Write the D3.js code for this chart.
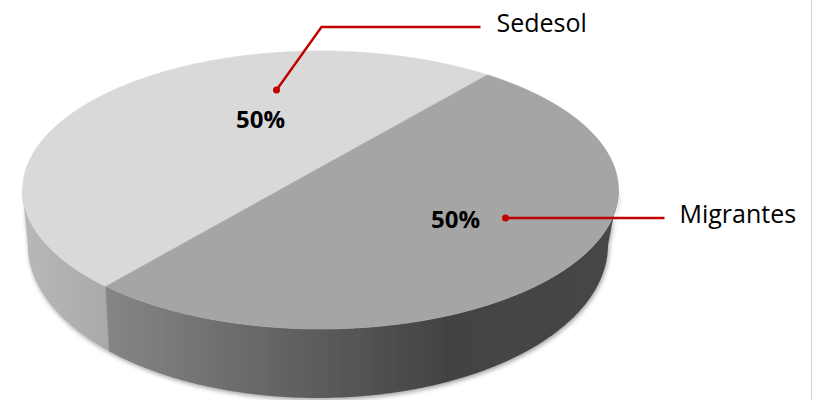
<!DOCTYPE html>
<html>
<head>
<meta charset="utf-8">
<script src="https://cdn.jsdelivr.net/npm/d3@7"></script>
<style>
  body { margin: 0; background: #fff; }
  text { font-family: "Open Sans", "Liberation Sans", sans-serif; }
</style>
</head>
<body>
<div id="chart"></div>
<script>
// chart data
const categories = ["Sedesol", "Migrantes"];
const values = [50, 50];
const topColors = ["#d9d9d9", "#a5a5a5"];

const width = 813, height = 400;

// top and bottom faces of the 3d disc (bottom one seen in perspective)
const topFace = { cx: 320.5, cy: 190, rx: 298, ry: 139 };
const botFace = { cx: 318, cy: 245, rx: 290, ry: 153 };
// where the disc centre ends up inside the unit ellipse
const tilt = { x: -0.06, y: -0.091 };

// label / leader placement, relative to the top face centre
const callouts = [
    { pct: [-60, -62], dot: [-44, -100], line: [[-44, -100], [1, -163], [160, -163]], text: [176, -158] },
    { pct: [135, 38], dot: [185, 28], line: [[185, 28], [344, 28]], text: [359, 33] }
];

let svg = d3.select("#chart").append("svg")
    .attr("width", width)
    .attr("height", height);

let defs = svg.append("defs");

let g1 = defs.append("linearGradient").attr("id", "sideLight")
    .attr("gradientUnits", "userSpaceOnUse")
    .attr("x1", 20).attr("x2", 110).attr("y1", 0).attr("y2", 0);
g1.append("stop").attr("offset", 0).attr("stop-color", "#b9b9b9");
g1.append("stop").attr("offset", 1).attr("stop-color", "#a9a9a9");

let g2 = defs.append("linearGradient").attr("id", "sideDark")
    .attr("gradientUnits", "userSpaceOnUse")
    .attr("x1", 105).attr("x2", 620).attr("y1", 0).attr("y2", 0);
g2.append("stop").attr("offset", 0).attr("stop-color", "#868686");
g2.append("stop").attr("offset", 0.66).attr("stop-color", "#434343");
g2.append("stop").attr("offset", 1).attr("stop-color", "#464646");

let shadow = defs.append("filter").attr("id", "shadow")
    .attr("x", "-10%").attr("y", "-10%").attr("width", "120%").attr("height", "130%");
shadow.append("feDropShadow")
    .attr("dx", 1).attr("dy", 2).attr("stdDeviation", 2)
    .attr("flood-color", "#000").attr("flood-opacity", 0.35);

// projective map of the unit circle onto itself, moves centre to tilt
function boost(u, v) {
    const a = Math.hypot(tilt.x, tilt.y), dx = tilt.x / a, dy = tilt.y / a;
    const ch = 1 / Math.sqrt(1 - a * a), sh = a * ch;
    const s = u * dx + v * dy;
    const pu = u - s * dx, pv = v - s * dy;
    const s2 = s * ch + sh, w = s * sh + ch;
    return [(pu + s2 * dx) / w, (pv + s2 * dy) / w];
}

function unitAt(angle) {
    const t = angle - Math.PI / 2;
    return boost(Math.cos(t), Math.sin(t));
}

function toScreen(face, p) {
    return [face.cx + face.rx * p[0], face.cy + face.ry * p[1]];
}

const total = d3.sum(values);
const fmt = d3.format(".0%");
const start = 220 * Math.PI / 180;

let pie = d3.pie()
    .sort(null)
    .startAngle(start)
    .endAngle(start + 2 * Math.PI);

let arcs = pie(values);
let line = d3.line();

function samples(d) {
    const n = Math.max(2, Math.ceil((d.endAngle - d.startAngle) / (0.2 * Math.PI / 180)));
    return d3.range(n + 1).map(i => d.startAngle + (d.endAngle - d.startAngle) * i / n);
}

// side walls (front part only)
let sides = svg.append("g").attr("filter", "url(#shadow)");
arcs.forEach(function (d, i) {
    let pts = samples(d).map(unitAt).filter(p => p[1] >= 0);
    if (pts.length < 2) return;
    let ring = pts.map(p => toScreen(topFace, p))
        .concat(pts.slice().reverse().map(p => toScreen(botFace, p)));
    sides.append("path")
        .attr("d", line(ring) + "Z")
        .attr("fill", i == 0 ? "url(#sideLight)" : "url(#sideDark)")
        .attr("stroke", i == 0 ? "#ababab" : "#7a7a7a")
        .attr("stroke-width", 0.3);
});

// top faces
let centre = toScreen(topFace, boost(0, 0));
svg.append("g")
    .selectAll("path")
    .data(arcs)
    .enter()
    .append("path")
    .attr("d", function (d) {
        let pts = samples(d).map(a => toScreen(topFace, unitAt(a)));
        return line([centre].concat(pts)) + "Z";
    })
    .attr("fill", (d, i) => topColors[i])
    .attr("stroke", (d, i) => topColors[i])
    .attr("stroke-width", 0.6);

// labels and leaders
let labels = svg.append("g");
arcs.forEach(function (d, i) {
    const c = callouts[i];
    const at = p => [topFace.cx + p[0], topFace.cy + p[1]];
    labels.append("path")
        .attr("d", line(c.line.map(at)))
        .attr("fill", "none")
        .attr("stroke", "#c00000")
        .attr("stroke-width", 2.4);
    labels.append("circle")
        .attr("cx", at(c.dot)[0]).attr("cy", at(c.dot)[1])
        .attr("r", 3.5)
        .attr("fill", "#c00000");
    labels.append("text")
        .attr("x", at(c.pct)[0]).attr("y", at(c.pct)[1])
        .attr("text-anchor", "middle")
        .style("font-size", "24px")
        .style("font-weight", "bold")
        .attr("fill", "#000")
        .text(fmt(d.data / total));
    labels.append("text")
        .attr("x", at(c.text)[0]).attr("y", at(c.text)[1])
        .style("font-size", "25px")
        .attr("fill", "#000")
        .text(categories[i]);
});

// thin frame edge on the right
svg.append("line")
    .attr("x1", 811.5).attr("x2", 811.5)
    .attr("y1", 0).attr("y2", height)
    .attr("stroke", "#d4d4d4")
    .attr("stroke-width", 1);
</script>
</body>
</html>
